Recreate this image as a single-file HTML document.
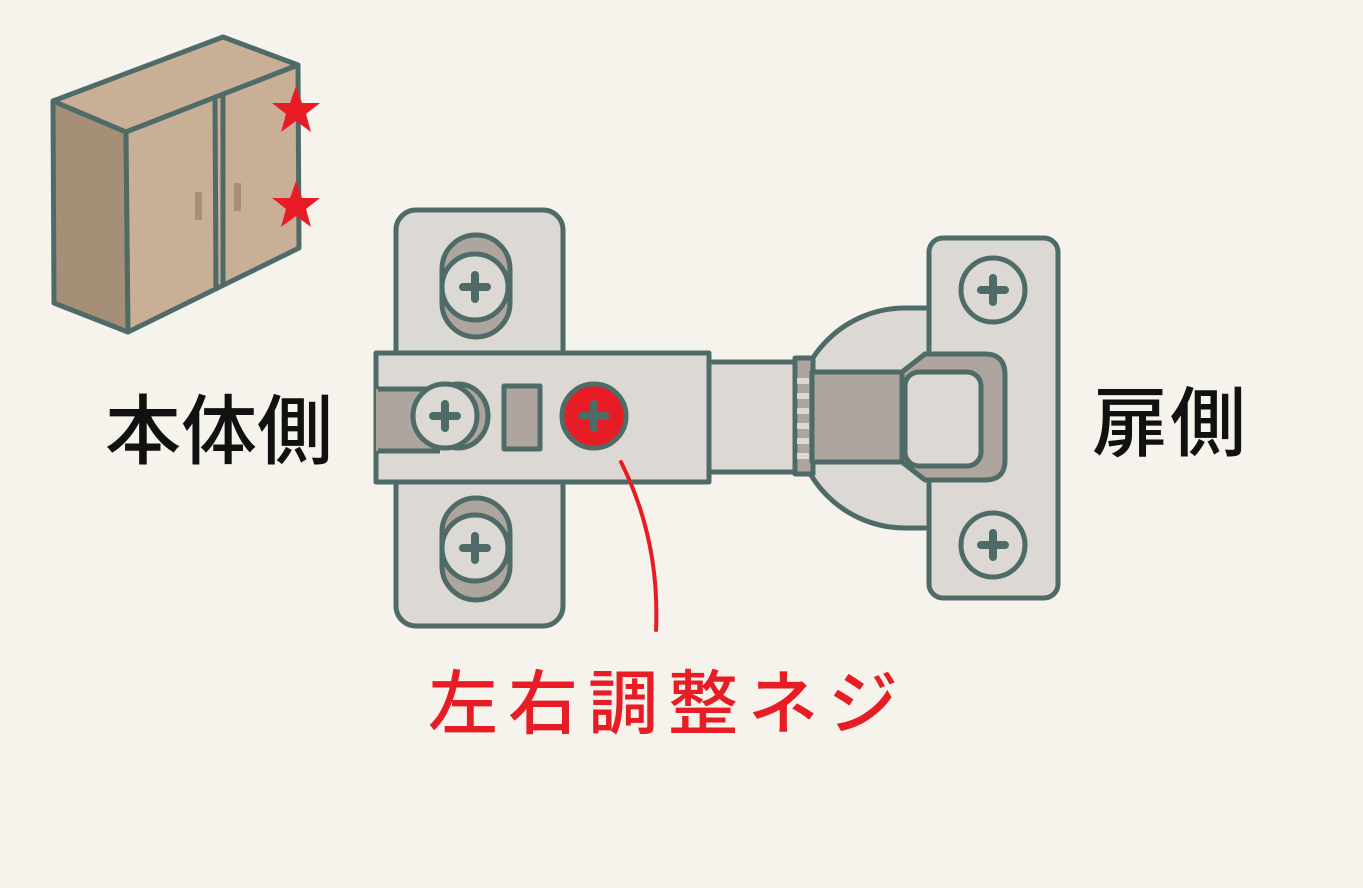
<!DOCTYPE html>
<html><head><meta charset="utf-8"><style>
body{margin:0;background:#f6f3ed;width:1363px;height:888px;overflow:hidden}
svg{position:absolute;left:0;top:0}
.t{font-family:"Liberation Sans","Noto Sans CJK JP",sans-serif;font-weight:500}
</style></head><body>
<svg width="1363" height="888" viewBox="0 0 1363 888">
<g stroke="#4f6b68" stroke-width="5" stroke-linejoin="round" stroke-linecap="round">
<polygon points="53,101 126,132 128,332 54,303" fill="#a68f77"/>
<polygon points="53,101 223,37 298,65 126,132" fill="#c8af95"/>
<polygon points="126,132 298,65 299,248 128,332" fill="#c8af95"/>
<line x1="215" y1="97" x2="216" y2="289"/>
<line x1="223" y1="94" x2="223" y2="285"/>
</g>
<rect x="195" y="192" width="7" height="28" fill="#a78f78"/>
<rect x="234" y="183" width="7" height="28" fill="#a78f78"/>
<g fill="#e81c24">
<polygon points="296,86 302,103 320,103 306,114 311,132 296,121 281,132 286,114 272,103 290,103"/>
<polygon points="296,181 302,198 320,198 306,209 311,227 296,216 281,227 286,209 272,198 290,198"/>
</g>
<g stroke="#4f6b68" stroke-width="5" stroke-linejoin="round">
<rect x="396" y="210" width="167" height="416" rx="20" fill="#dcd8d3"/>
<rect x="442" y="235" width="68" height="102" rx="34" fill="#ada59e"/>
<circle cx="475" cy="287" r="33" fill="#dcd8d3"/>
<rect x="442" y="498" width="68" height="102" rx="34" fill="#ada59e"/>
<circle cx="475" cy="548" r="33" fill="#dcd8d3"/>
<path d="M935,308 L905,308 A110,110 0 0 0 905,528 L935,528 Z" fill="#dcd8d3"/>
<rect x="929" y="238" width="129" height="360" rx="14" fill="#dcd8d3"/>
<circle cx="993" cy="290" r="32" fill="#dcd8d3"/>
<circle cx="993" cy="545" r="32" fill="#dcd8d3"/>
<rect x="709" y="362" width="90" height="110" fill="#dcd8d3"/>
<rect x="795" y="358" width="18" height="116" fill="#ada59e"/>
<rect x="812" y="372" width="92" height="90" fill="#ada59e"/>
<path d="M925,354 L985,354 Q1005,354 1005,375 L1005,460 Q1005,480 985,480 L925,480 L902,462 L902,372 Z" fill="#ada59e"/>
<rect x="905" y="372" width="76" height="94" rx="14" fill="#dcd8d3"/>
<rect x="376" y="353" width="333" height="129" fill="#dcd8d3"/>
<rect x="376" y="389" width="64" height="62" fill="#ada59e" stroke="none"/>
<line x1="378" y1="389" x2="440" y2="389"/><line x1="378" y1="451" x2="440" y2="451"/>
<ellipse cx="458" cy="416" rx="30" ry="32" fill="#ada59e"/>
<circle cx="445" cy="416" r="32" fill="#dcd8d3"/>
<rect x="504" y="386" width="36" height="63" fill="#ada59e"/>
<circle cx="594" cy="416" r="32" fill="#e81c24"/>
</g>
<g fill="#dcd8d3">
<rect x="797" y="378" width="12" height="6"/><rect x="797" y="393" width="12" height="6"/><rect x="797" y="408" width="12" height="6"/><rect x="797" y="423" width="12" height="6"/><rect x="797" y="438" width="12" height="6"/><rect x="797" y="453" width="12" height="6"/>
</g>
<g stroke="#4f6b68" stroke-width="8" stroke-linecap="round">
<path d="M475,275v24M463,287h24"/>
<path d="M475,536v24M463,548h24"/>
<path d="M445,404v24M433,416h24"/>
<path d="M594,404v24M582,416h24"/>
<path d="M993,278v24M981,290h24"/>
<path d="M993,533v24M981,545h24"/>
</g>
<path d="M621,462 Q660,540 656,630" fill="none" stroke="#e81c24" stroke-width="4" stroke-linecap="round"/>
<text class="t" x="105" y="458" font-size="76" fill="#111">本体側</text>
<text class="t" x="1092" y="450" font-size="76" fill="#111" letter-spacing="2">扉側</text>
<text class="t" x="428" y="728" font-size="70" fill="#e81c24" letter-spacing="10">左右調整ネジ</text>
</svg>
</body></html>
